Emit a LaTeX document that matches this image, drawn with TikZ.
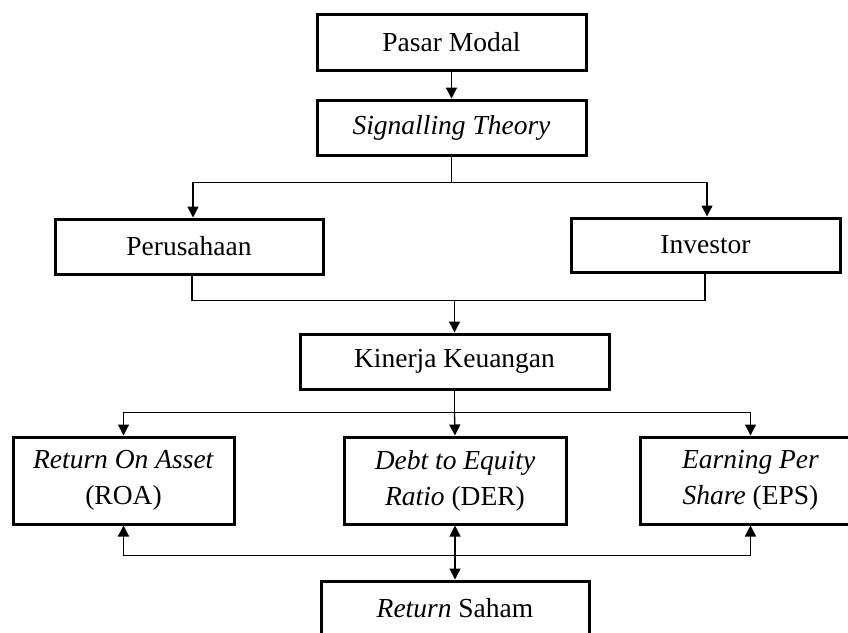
\documentclass[tikz,border=0pt]{standalone}
\usepackage{fontspec}
\setmainfont{Liberation Serif}
\usetikzlibrary{arrows.meta}
\begin{document}
\begin{tikzpicture}[x=1pt,y=-1pt,
  box/.style={draw, line width=3pt, inner sep=0pt, align=center, font=\fontsize{27.5}{36}\selectfont},
  conn/.style={line width=1.3pt},
  arr/.style={conn, -{Triangle[length=11pt,width=11pt]}},
  darr/.style={conn, {Triangle[length=11pt,width=11pt]}-{Triangle[length=11pt,width=11pt]}}]
\clip (0,0) rectangle (848,632);
\node[box, minimum width=269pt, minimum height=56pt] (pm) at (451.5,42) {Pasar Modal};
\node[box, minimum width=269pt, minimum height=55pt] (st) at (451.5,127.5) {\textit{Signalling Theory}};
\node[box, minimum width=268pt, minimum height=55pt] (per) at (189,246.5) {Perusahaan};
\node[box, minimum width=269pt, minimum height=54pt] (inv) at (705.5,245) {Investor};
\node[box, minimum width=309pt, minimum height=55pt] (kk) at (454.5,361.5) {Kinerja Keuangan};
\node[box, minimum width=221pt, minimum height=87pt] (roa) at (123.5,480.5) {\textit{Return On Asset}\\(ROA)};
\node[box, minimum width=222pt, minimum height=87pt] (der) at (455,480.5) {\textit{Debt to Equity}\\\textit{Ratio} (DER)};
\node[box, minimum width=221pt, minimum height=87pt] (eps) at (750.5,480.5) {\textit{Earning Per}\\\textit{Share} (EPS)};
\node[box, minimum width=268pt, minimum height=55pt] (rs) at (455,608.5) {\textit{Return} Saham};
% connectors
\draw[arr] (pm.south) -- (st.north);
\draw[conn] (st.south) -- ++(0,26) coordinate (j1);
\draw[arr] (j1) -| ([xshift=4pt]per.north);
\draw[arr] (j1) -| ([xshift=1.5pt]inv.north);
\draw[conn] ([xshift=3pt]per.south) -- ++(0,25) coordinate (j2) -| ([xshift=-0.5pt]inv.south);
\draw[arr] (j2 -| kk.north) -- (kk.north);
\draw[conn] (kk.south) -- ++(0,22) coordinate (j3);
\draw[arr] (j3) -| (roa.north);
\draw[arr] (j3) -| (eps.north);
\draw[arr] (j3) -- (der.north);
\draw[darr] (der.south) -- (rs.north);
\path (der.south) ++(0,30) coordinate (j4);
\draw[arr] (j4) -| (roa.south);
\draw[arr] (j4) -| (eps.south);
\end{tikzpicture}
\end{document}
